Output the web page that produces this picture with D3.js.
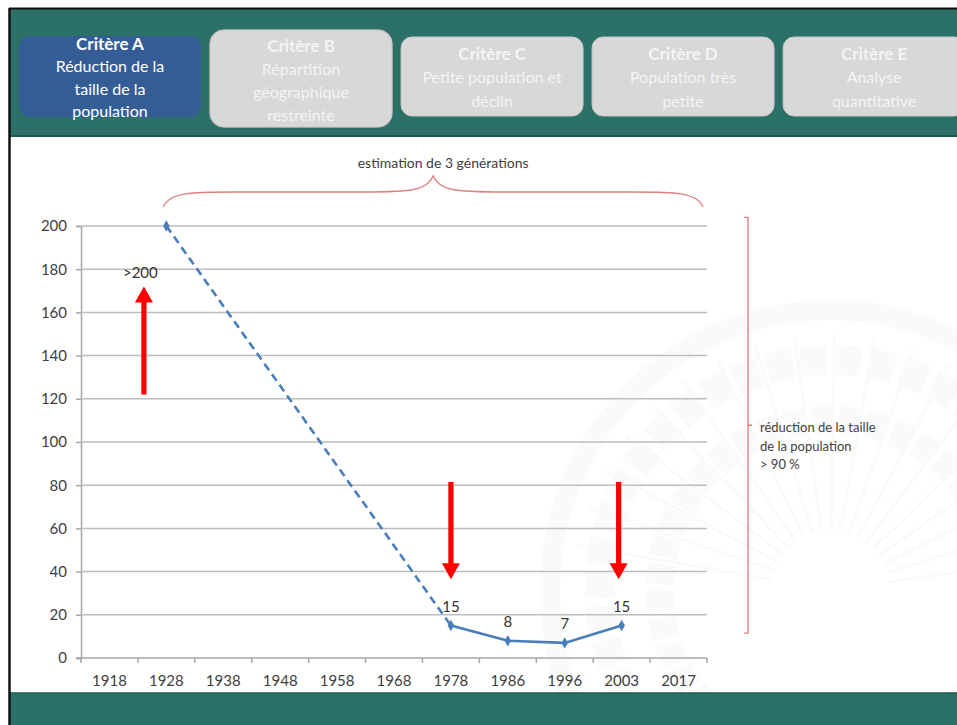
<!DOCTYPE html>
<html lang="fr">
<head>
<meta charset="utf-8">
<script src="https://cdn.jsdelivr.net/npm/d3@7"></script>
<style>
  html, body { margin: 0; padding: 0; background: #ffffff; }
  svg { display: block; font-family: Lato, "Open Sans", sans-serif; }
</style>
</head>
<body>
<svg id="chart" width="957" height="725"></svg>
<script>
// Categories on the horizontal axis
const years = ["1918", "1928", "1938", "1948", "1958", "1968", "1978", "1986", "1996", "2003", "2017"];
// Estimated decline (dashed segment)
const estimateYears = ["1928", "1978"];
const estimateValues = [200, 15];
// Observed counts (solid segment)
const observedYears = ["1978", "1986", "1996", "2003"];
const observedValues = [15, 8, 7, 15];
const observedLabels = ["15", "8", "7", "15"];
// Value axis ticks
const yTicks = [0, 20, 40, 60, 80, 100, 120, 140, 160, 180, 200];
// Criteria tabs across the header
const tabTitles = ["Critère A", "Critère B", "Critère C", "Critère D", "Critère E"];
const tabLines = [
  ["Réduction de la", "taille de la", "population"],
  ["Répartition", "géographique", "restreinte"],
  ["Petite population et", "déclin"],
  ["Population très", "petite"],
  ["Analyse", "quantitative"]
];
const activeTab = 0;
// Annotations
const startLabel = ">200";
const braceText = "estimation de 3 générations";
const sideText = ["réduction de la taille", "de la population", "> 90 %"];

const svg = d3.select("#chart");
const W = 957, H = 725;

const teal = "#2b7167";
const lineBlue = "#4a7ebb";
const red = "#ff0000";
const textGrey = "#404040";

// ---- slide frame ----
svg.append("rect").attr("x", 0).attr("y", 0).attr("width", W).attr("height", H).attr("fill", "#fff");

// faint emblem in the background
const emb = svg.append("g").attr("transform", "translate(830,590)").attr("opacity", 0.28);
emb.append("circle").attr("r", 280).attr("fill", "none").attr("stroke", "#eeeeee").attr("stroke-width", 20);
emb.append("circle").attr("r", 230).attr("fill", "none").attr("stroke", "#f0f0f0").attr("stroke-width", 30).attr("stroke-dasharray", "26 8");
emb.append("circle").attr("r", 170).attr("fill", "none").attr("stroke", "#f0f0f0").attr("stroke-width", 28).attr("stroke-dasharray", "20 7");
emb.selectAll("line.spoke").data(d3.range(-170, -5, 9)).join("line")
  .attr("x1", d => 60 * Math.cos(d * Math.PI / 180))
  .attr("y1", d => 60 * Math.sin(d * Math.PI / 180))
  .attr("x2", d => 255 * Math.cos(d * Math.PI / 180))
  .attr("y2", d => 255 * Math.sin(d * Math.PI / 180))
  .attr("stroke", "#eeeeee").attr("stroke-width", 3);

// header band
svg.append("rect").attr("x", 9).attr("y", 8).attr("width", W - 9).attr("height", 129).attr("fill", teal);
svg.append("line").attr("x1", 9).attr("x2", W).attr("y1", 136).attr("y2", 136).attr("stroke", "#1f5a52").attr("stroke-width", 2);
svg.append("line").attr("x1", 9).attr("x2", W).attr("y1", 8.5).attr("y2", 8.5).attr("stroke", "#111").attr("stroke-width", 2);
// footer band
svg.append("rect").attr("x", 9).attr("y", 693).attr("width", W - 9).attr("height", H - 693).attr("fill", teal);
svg.append("line").attr("x1", 9).attr("x2", W).attr("y1", 693).attr("y2", 693).attr("stroke", "#1f5a52").attr("stroke-width", 1.5);
// left frame edge
svg.append("line").attr("x1", 9.5).attr("x2", 9.5).attr("y1", 8).attr("y2", H).attr("stroke", "#111").attr("stroke-width", 2.5);

// ---- criteria tabs ----
const tabX = d3.scaleBand().domain(d3.range(5)).range([19, 19 + 5 * 189.5]).paddingInner(0.04);
const tabs = svg.append("g");
tabTitles.forEach((t, i) => {
  const x0 = tabX(i), w = 182;
  const isActive = i === activeTab;
  const isRaised = i === 1;
  const y0 = isActive ? 36 : (isRaised ? 30 : 37);
  const h = isActive ? 81 : (isRaised ? 97 : 79);
  if (isRaised) {
    tabs.append("rect").attr("x", x0 - 1).attr("y", y0 - 1).attr("width", w + 2).attr("height", h + 2)
      .attr("rx", 15).attr("fill", "#7d7d7d");
  }
  tabs.append("rect").attr("x", x0).attr("y", y0).attr("width", w).attr("height", h)
    .attr("rx", isRaised ? 14 : 11)
    .attr("fill", isActive ? "#355d95" : "#d8d8d8")
    .attr("stroke", isActive ? "none" : "#c8c8c8").attr("stroke-width", 1);
  const cx = x0 + w / 2;
  const lines = tabLines[i];
  const top = isActive ? 43 : (isRaised ? 45 : 53);
  const step = isActive ? 22.5 : (isRaised ? 23.3 : 23.5);
  const fill = isActive ? "#ffffff" : "#f4f4f4";
  tabs.append("text").attr("x", cx).attr("y", top).attr("text-anchor", "middle")
    .attr("dominant-baseline", "central").attr("font-size", 17).attr("font-weight", "bold")
    .attr("fill", fill).text(t);
  lines.forEach((l, j) => {
    tabs.append("text").attr("x", cx).attr("y", top + step * (j + 1)).attr("text-anchor", "middle")
      .attr("dominant-baseline", "central").attr("font-size", 16)
      .attr("fill", fill).text(l);
  });
});

// ---- chart scales ----
const x = d3.scaleBand().domain(years).range([81, 707]).paddingInner(0).paddingOuter(0);
const xc = d => x(d) + x.bandwidth() / 2;
const y = d3.scaleLinear().domain([0, 200]).range([658, 226]);

const plot = svg.append("g");

// gridlines + value axis
const yAxis = d3.axisLeft(y).tickValues(yTicks).tickSize(5).tickPadding(9);
const gy = plot.append("g").attr("transform", `translate(${x.range()[0]},0)`).call(yAxis);
gy.select(".domain").attr("stroke", "#a6a6a6").attr("stroke-width", 1.5);
gy.selectAll(".tick line").attr("stroke", "#a6a6a6").attr("stroke-width", 1.5);
gy.selectAll(".tick text").attr("font-size", 15).attr("fill", textGrey).attr("font-family", "Lato, sans-serif");

plot.append("g").selectAll("line").data(yTicks.filter(v => v > 0)).join("line")
  .attr("x1", x.range()[0]).attr("x2", x.range()[1])
  .attr("y1", d => y(d)).attr("y2", d => y(d))
  .attr("stroke", "#bdbdbd").attr("stroke-width", 1.5);

// category axis: labels centred in bands, ticks on band boundaries
const xAxis = d3.axisBottom(x).tickSize(0).tickPadding(17);
const gx = plot.append("g").attr("transform", `translate(0,${y(0)})`).call(xAxis);
gx.select(".domain").remove();
gx.selectAll(".tick text").attr("font-size", 15).attr("fill", textGrey).attr("font-family", "Lato, sans-serif");
plot.append("line").attr("x1", x.range()[0] - 5).attr("x2", x.range()[1])
  .attr("y1", y(0)).attr("y2", y(0)).attr("stroke", "#a6a6a6").attr("stroke-width", 1.5);
const bounds = years.map(d => x(d)).concat([x.range()[1]]);
plot.append("g").selectAll("line").data(bounds).join("line")
  .attr("x1", d => d).attr("x2", d => d)
  .attr("y1", y(0)).attr("y2", y(0) + 5)
  .attr("stroke", "#a6a6a6").attr("stroke-width", 1.5);

// ---- series ----
const line = d3.line().x(d => xc(d[0])).y(d => y(d[1]));
const estPts = estimateYears.map((d, i) => [d, estimateValues[i]]);
const obsPts = observedYears.map((d, i) => [d, observedValues[i]]);

plot.append("path").attr("d", line(estPts)).attr("fill", "none")
  .attr("stroke", lineBlue).attr("stroke-width", 2.6).attr("stroke-dasharray", "8 5");
plot.append("path").attr("d", line(obsPts)).attr("fill", "none")
  .attr("stroke", lineBlue).attr("stroke-width", 2.6);

const diamond = d3.symbol().type(d3.symbolDiamond).size(38);
plot.append("g").selectAll("path").data([estPts[0]].concat(obsPts)).join("path")
  .attr("d", diamond).attr("transform", d => `translate(${xc(d[0])},${y(d[1])})`)
  .attr("fill", lineBlue);

// value labels
plot.append("g").selectAll("text").data(obsPts).join("text")
  .attr("x", d => xc(d[0])).attr("y", d => y(d[1]) - 20)
  .attr("text-anchor", "middle").attr("dominant-baseline", "central")
  .attr("font-size", 15).attr("fill", "#333").text((d, i) => observedLabels[i]);
plot.append("text").attr("x", xc("1928") - 26).attr("y", y(178.5))
  .attr("text-anchor", "middle").attr("dominant-baseline", "central")
  .attr("font-size", 15).attr("fill", "#333").text(startLabel);

// ---- red arrows ----
function arrow(g, xPos, vFrom, vTo) {
  const y1 = y(vFrom), y2 = y(vTo);
  const dir = Math.sign(y2 - y1);
  const headLen = 16, headHalf = 9, shaft = 2.6;
  const yBase = y2 - dir * headLen;
  g.append("path")
    .attr("d", `M${xPos - shaft},${y1} L${xPos + shaft},${y1} L${xPos + shaft},${yBase} L${xPos + headHalf},${yBase}
                L${xPos},${y2} L${xPos - headHalf},${yBase} L${xPos - shaft},${yBase} Z`)
    .attr("fill", red);
}
const arrows = plot.append("g");
arrow(arrows, x("1928") + 6, 122, 172);
arrow(arrows, xc("1978"), 81.5, 36.5);
arrow(arrows, xc("2003") - 3, 81.5, 36.5);

// ---- brace over three generations ----
const bL = xc("1928") - 3, bR = x.range()[1] - 4, bM = (bL + bR) / 2;
const bBase = y(200) - 19, bMid = y(200) - 34, bTip = y(200) - 50;
const brace = `M${bL},${bBase}
  C${bL + 6},${bMid} ${bL + 30},${bMid} ${bL + 70},${bMid}
  L${bM - 70},${bMid}
  C${bM - 20},${bMid} ${bM - 6},${bMid - 2} ${bM},${bTip}
  C${bM + 6},${bMid - 2} ${bM + 20},${bMid} ${bM + 70},${bMid}
  L${bR - 70},${bMid}
  C${bR - 30},${bMid} ${bR - 6},${bMid} ${bR},${bBase}`;
plot.append("path").attr("d", brace).attr("fill", "none").attr("stroke", "#e08080").attr("stroke-width", 1.4);
plot.append("text").attr("x", bM + 10).attr("y", bTip - 14).attr("text-anchor", "middle")
  .attr("dominant-baseline", "central").attr("font-size", 14).attr("fill", textGrey).text(braceText);

// ---- bracket for the population reduction ----
const rx = 748, rTop = y(204), rBot = y(11.5), rMid = (rTop + rBot) / 2;
plot.append("path")
  .attr("d", `M${rx - 4},${rTop} L${rx},${rTop} L${rx},${rBot} L${rx - 4},${rBot} M${rx},${rMid} L${rx + 4},${rMid}`)
  .attr("fill", "none").attr("stroke", "#e08080").attr("stroke-width", 1.4);
const side = plot.append("text").attr("x", 760).attr("y", rMid + 2).attr("font-size", 13).attr("fill", textGrey);
sideText.forEach((t, i) => {
  side.append("tspan").attr("x", 760).attr("y", rMid + 2 + i * 18.5).attr("dominant-baseline", "central").text(t);
});
</script>
</body>
</html>
